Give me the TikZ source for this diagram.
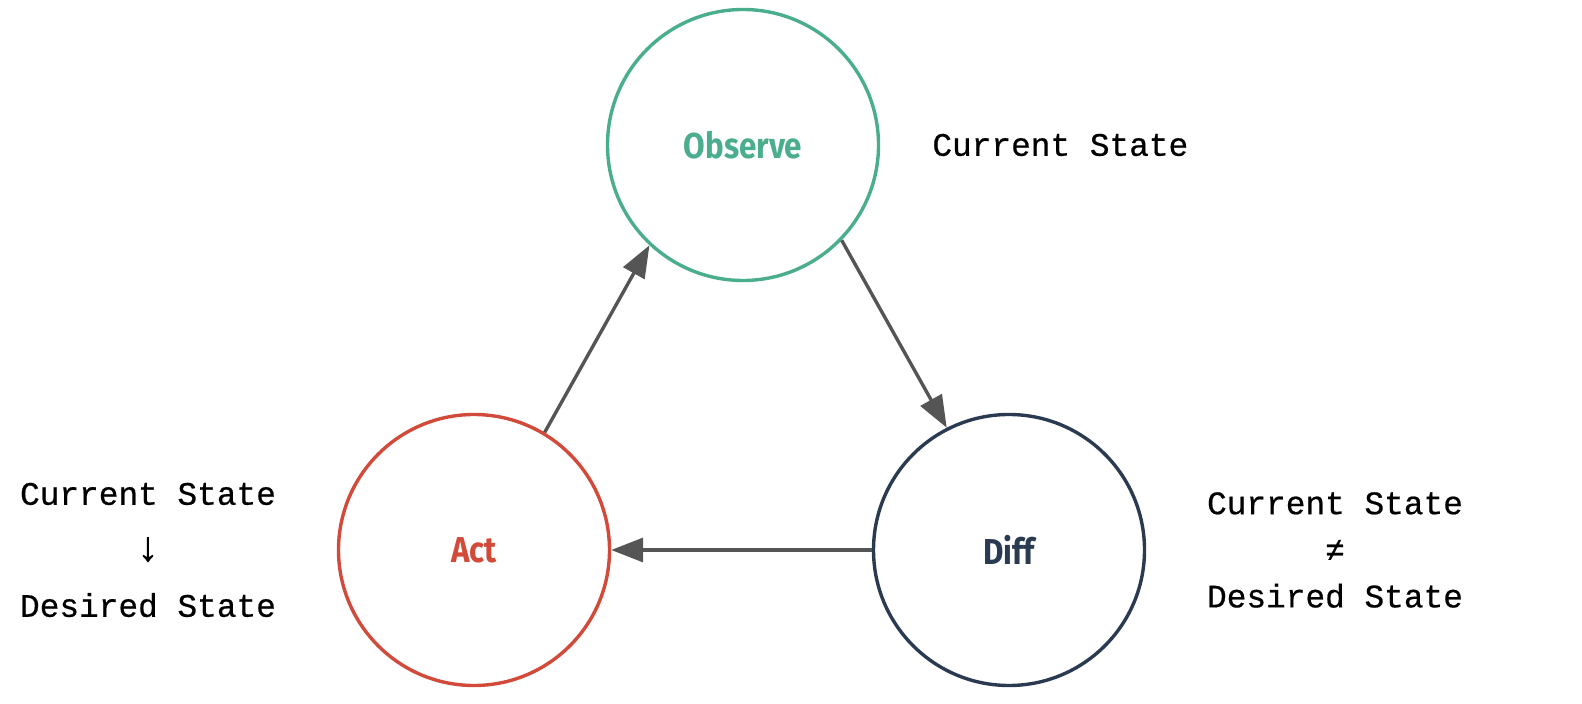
\documentclass[tikz,border=0pt]{standalone}
\usepackage{fontspec}
\setmonofont[FakeBold=0.6]{Liberation Mono}
\newfontfamily\lblfont[FakeStretch=0.87]{Fira Sans}
\usetikzlibrary{arrows.meta}
\definecolor{obsgreen}{HTML}{4AAE8E}
\definecolor{actred}{HTML}{D14A3A}
\definecolor{diffnavy}{HTML}{2A3A50}
\definecolor{arrgray}{HTML}{555555}
\newcommand{\bigsym}[1]{{\fontsize{21}{28}\selectfont #1}}
\tikzset{
  stage/.style={circle, draw, line width=1.7pt, minimum size=135.5pt, inner sep=0pt,
    font=\lblfont\bfseries\fontsize{18}{20}\selectfont},
  conn/.style={draw=arrgray, line width=1.7pt, -{Triangle[length=16pt,width=12pt]}},
  statetxt/.style={font=\ttfamily\fontsize{16.4}{28}\selectfont, align=center, text=black, inner sep=0pt}
}
\begin{document}
\begin{tikzpicture}[x=0.5pt,y=-0.5pt]
\useasboundingbox (0,0) rectangle (1582,704);
\node[stage, draw=obsgreen, text=obsgreen] (obs) at (743,145) {Observe};
\node[stage, draw=actred, text=actred] (act) at (474,550) {Act};
\node[stage, draw=diffnavy, text=diffnavy] (diff) at (1009,550) {Diff};
\draw[conn] (act.59) -- (obs.227);
\draw[conn] (obs.316) -- (diff.117);
\draw[conn] (diff.west) -- (act.east);
\node[statetxt, anchor=west] (t1) at (932,145) {Current State};
\node[statetxt] (t2) at (148,550) {Current State\\\bigsym{↓}\\Desired State};
\node[statetxt, font=\ttfamily\fontsize{16.4}{23.3}\selectfont] (t3) at (1335,550) {Current State\\≠\\Desired State};
\end{tikzpicture}
\end{document}
